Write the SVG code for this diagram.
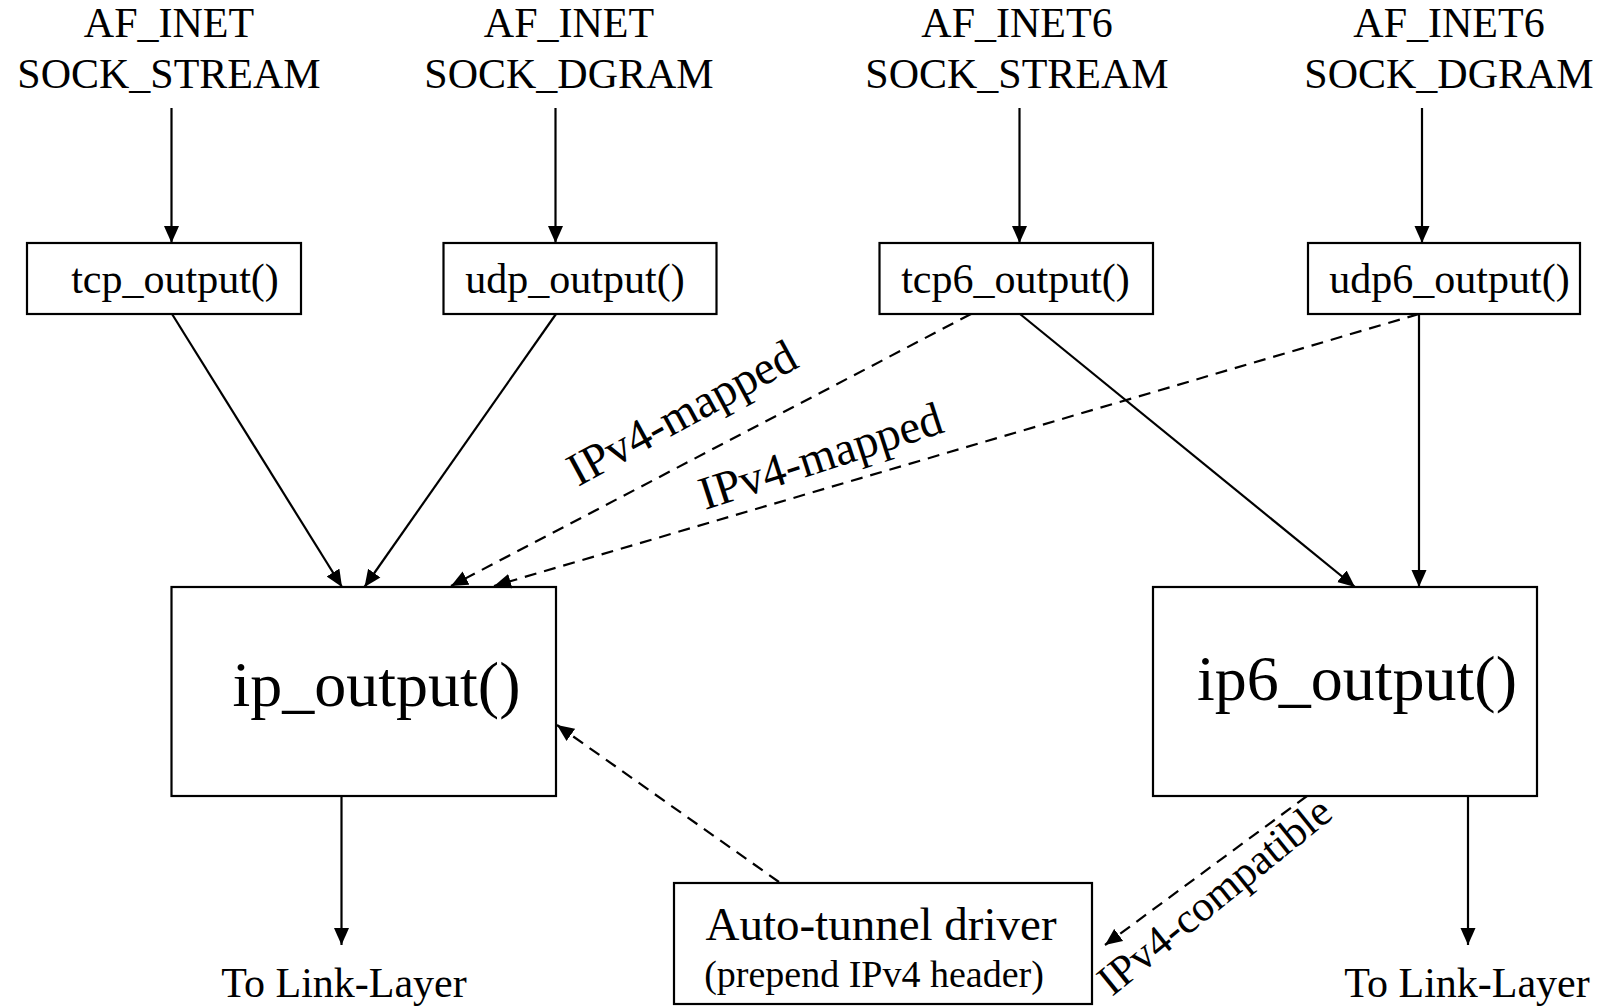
<svg xmlns="http://www.w3.org/2000/svg" width="1614" height="1007" viewBox="0 0 1614 1007">
  <style>
    text { font-family: "Liberation Serif", "Times New Roman", serif; fill: #000; }
    .lbl { font-size: 42px; text-anchor: middle; }
    .fn { font-size: 42px; text-anchor: middle; }
    .big { font-size: 64px; text-anchor: middle; }
    .edge { font-size: 47px; }
    .box { fill: #fff; stroke: #000; stroke-width: 2.2; }
    .conn { fill: none; stroke: #000; stroke-width: 2.2; marker-end: url(#arrow); }
    .dash { stroke-dasharray: 12 8; }
  </style>
  <defs>
    <marker id="arrow" markerUnits="userSpaceOnUse" markerWidth="18" markerHeight="16" refX="17" refY="8" orient="auto">
      <path d="M0,0.5 L17,8 L0,15.5 z" fill="#000"/>
    </marker>
  </defs>

  <rect width="1614" height="1007" fill="#fff"/>

  <!-- socket type labels -->
  <g id="src-inet-stream">
    <text class="lbl" x="169" y="37">AF_INET</text>
    <text class="lbl" x="169" y="88">SOCK_STREAM</text>
  </g>
  <g id="src-inet-dgram">
    <text class="lbl" x="569" y="37">AF_INET</text>
    <text class="lbl" x="569" y="88">SOCK_DGRAM</text>
  </g>
  <g id="src-inet6-stream">
    <text class="lbl" x="1017" y="37">AF_INET6</text>
    <text class="lbl" x="1017" y="88">SOCK_STREAM</text>
  </g>
  <g id="src-inet6-dgram">
    <text class="lbl" x="1449" y="37">AF_INET6</text>
    <text class="lbl" x="1449" y="88">SOCK_DGRAM</text>
  </g>

  <!-- transport output functions -->
  <g id="tcp-output">
    <rect class="box" x="27" y="243" width="274" height="71"/>
    <text class="fn" x="175" y="293">tcp_output()</text>
  </g>
  <g id="udp-output">
    <rect class="box" x="443.5" y="243" width="273" height="71"/>
    <text class="fn" x="575" y="293">udp_output()</text>
  </g>
  <g id="tcp6-output">
    <rect class="box" x="879.5" y="243" width="273.5" height="71"/>
    <text class="fn" x="1015.5" y="293">tcp6_output()</text>
  </g>
  <g id="udp6-output">
    <rect class="box" x="1308" y="243" width="272" height="71"/>
    <text class="fn" x="1449.5" y="293">udp6_output()</text>
  </g>

  <!-- network layer output -->
  <g id="ip-output">
    <rect class="box" x="171.5" y="587" width="384.5" height="209"/>
    <text class="big" x="376.5" y="706">ip_output()</text>
  </g>
  <g id="ip6-output">
    <rect class="box" x="1153" y="587" width="384" height="209"/>
    <text class="big" x="1357" y="700">ip6_output()</text>
  </g>

  <!-- tunnel driver -->
  <g id="auto-tunnel">
    <rect class="box" x="674" y="883" width="418" height="121"/>
    <text x="881" y="940" font-size="47" text-anchor="middle">Auto-tunnel driver</text>
    <text x="874" y="987" font-size="38" text-anchor="middle">(prepend IPv4 header)</text>
  </g>

  <!-- link layer sinks -->
  <g id="link-layer-v4">
    <text class="lbl" x="344" y="997">To Link-Layer</text>
  </g>
  <g id="link-layer-v6">
    <text class="lbl" x="1467" y="997">To Link-Layer</text>
  </g>

  <!-- connectors -->
  <g id="connectors">
    <line class="conn" x1="171.5" y1="108" x2="171.5" y2="243"/>
    <line class="conn" x1="555.5" y1="108" x2="555.5" y2="243"/>
    <line class="conn" x1="1019.5" y1="108" x2="1019.5" y2="243"/>
    <line class="conn" x1="1422" y1="108" x2="1422" y2="243"/>

    <line class="conn" x1="172" y1="314" x2="342" y2="587"/>
    <line class="conn" x1="556" y1="314" x2="364.5" y2="587"/>
    <line class="conn dash" x1="971" y1="314" x2="451" y2="586"/>
    <line class="conn dash" x1="1419" y1="314" x2="494" y2="586"/>
    <line class="conn" x1="1020" y1="314" x2="1355" y2="587"/>
    <line class="conn" x1="1419" y1="314" x2="1419" y2="587"/>

    <line class="conn dash" x1="779" y1="882" x2="557" y2="725"/>
    <line class="conn dash" x1="1307" y1="796" x2="1105" y2="945"/>

    <line class="conn" x1="341.5" y1="796" x2="341.5" y2="945"/>
    <line class="conn" x1="1468" y1="796" x2="1468" y2="945"/>

    <text class="edge" transform="translate(578,487) rotate(-28.5)">IPv4-mapped</text>
    <text class="edge" transform="translate(705,510) rotate(-18)">IPv4-mapped</text>
    <text font-size="43" transform="translate(1112,997) rotate(-39)">IPv4-compatible</text>
  </g>
</svg>
